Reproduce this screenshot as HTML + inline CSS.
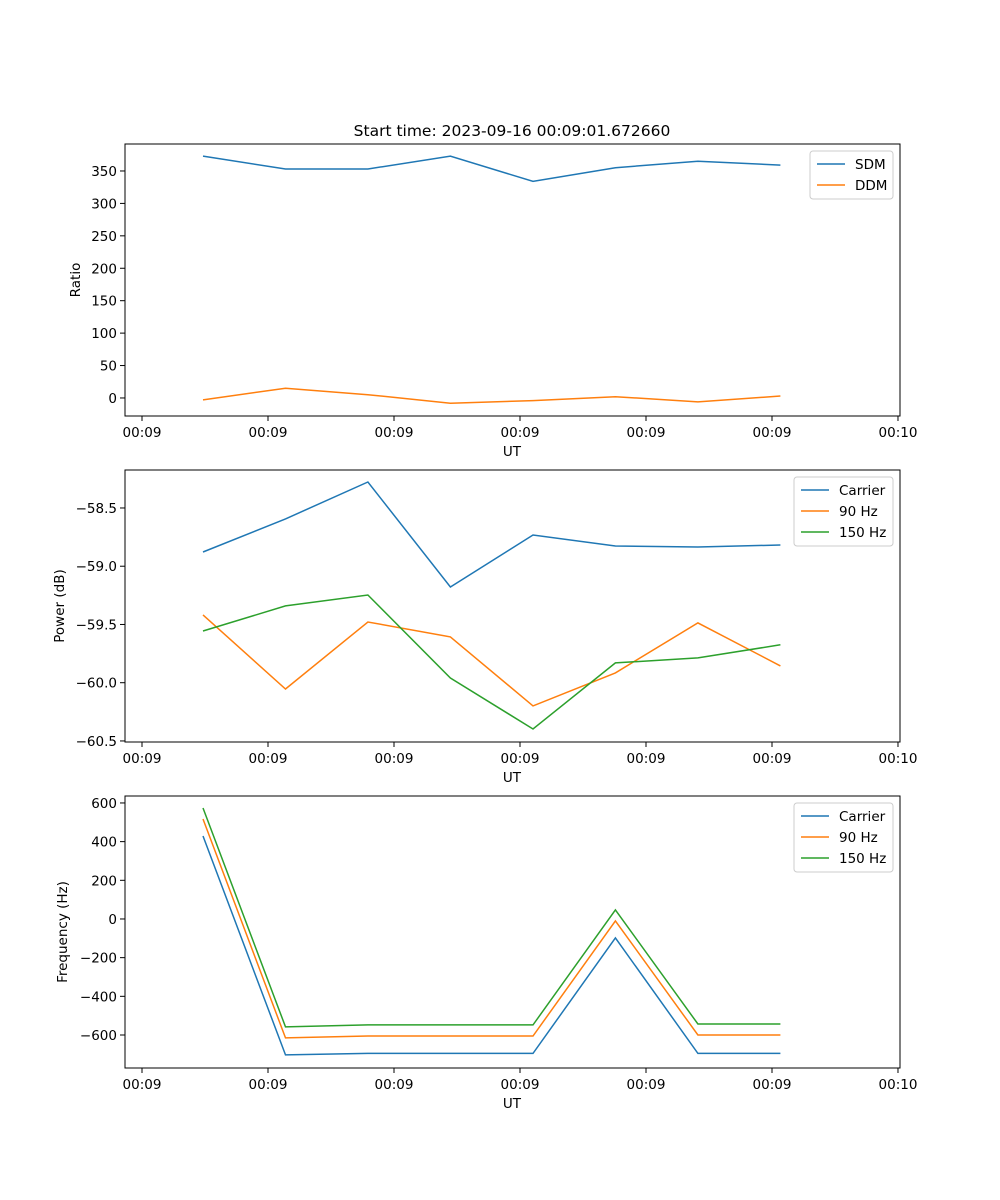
<!DOCTYPE html>
<html><head><meta charset="utf-8"><style>
body{margin:0;background:#fff}
svg{display:block;font-family:"DejaVu Sans","Liberation Sans",sans-serif}
</style></head><body>
<svg id="fig" width="1000" height="1200" xmlns="http://www.w3.org/2000/svg">
<rect width="1000" height="1200" fill="#fff"/>
<text x="512" y="136" font-size="15.5" text-anchor="middle" fill="#000">Start time: 2023-09-16 00:09:01.672660</text>
</svg>
<script>
const times=[4.84,11.39,17.93,24.48,31.03,37.57,44.12,50.67];
const xTicks=[0,10,20,30,40,50,60];
const xTickLabels=["00:09","00:09","00:09","00:09","00:09","00:09","00:10"];
const sdm=[373,353,353,373,334,355,365,359];
const ddm=[-3,15,5,-8,-4,2,-6,3];
const ratioTicks=[0,50,100,150,200,250,300,350];
const pwrCarrier=[-58.878,-58.594,-58.277,-59.178,-58.732,-58.826,-58.835,-58.818];
const pwr90=[-59.418,-60.054,-59.479,-59.607,-60.199,-59.916,-59.487,-59.856];
const pwr150=[-59.556,-59.341,-59.247,-59.96,-60.397,-59.83,-59.787,-59.675];
const pwrTicks=[-58.5,-59.0,-59.5,-60.0,-60.5];
const frqCarrier=[429,-703,-695,-695,-695,-98,-695,-695];
const frq90=[517,-615,-605,-605,-605,-10,-600,-600];
const frq150=[574,-558,-548,-548,-548,47,-543,-543];
const frqTicks=[600,400,200,0,-200,-400,-600];

const C1="#1f77b4",C2="#ff7f0e",C3="#2ca02c";
const svg=document.getElementById('fig');
const NS="http://www.w3.org/2000/svg";
function mk(tag,attrs,parent){const e=document.createElementNS(NS,tag);for(const k in attrs)e.setAttribute(k,attrs[k]);(parent||svg).appendChild(e);return e;}
const L=125,R=900,xmin=-1.35,xmax=60.16;
function xs(t){return L+(t-xmin)/(xmax-xmin)*(R-L);}
function fmt(v,d){return (v<0?"\u2212":"")+Math.abs(v).toFixed(d);}

function panel(name,top,bottom,ymin,ymax,yTicks,yDec,ylabel,series,legW,legX){
  const g=mk('g',{});
  
  
  const ys=v=>bottom-(v-ymin)/(ymax-ymin)*(bottom-top);
  series.forEach(s=>{
    const p=mk('polyline',{points:s.data.map((v,i)=>xs(times[i]).toFixed(1)+","+ys(v).toFixed(1)).join(" "),fill:"none",stroke:s.c,'stroke-width':1.5},g);
    
    
  });
  const fr=mk('rect',{x:L,y:top,width:R-L,height:bottom-top,fill:"none",stroke:"#000",'stroke-width':1},g);
  
  
  xTicks.forEach((t,i)=>{
    const x=xs(t);
    mk('line',{x1:x,x2:x,y1:bottom,y2:bottom+5,stroke:"#000"},g);
    const tx=mk('text',{x:x,y:bottom+21,'font-size':13.5,'text-anchor':'middle'},g);
    tx.textContent=xTickLabels[i];
    
    
  });
  yTicks.forEach(v=>{
    const y=ys(v);
    mk('line',{x1:L-5,x2:L,y1:y,y2:y,stroke:"#000"},g);
    const tx=mk('text',{x:L-8,y:y+5,'font-size':13.5,'text-anchor':'end'},g);
    tx.textContent=fmt(v,yDec);
    
    
  });
  const xl=mk('text',{x:512,y:bottom+40,'font-size':13.5,'text-anchor':'middle'},g);
  xl.textContent="UT";
  
  
  const cy=(top+bottom)/2;
  const yl=mk('text',{x:0,y:0,'font-size':13.5,'text-anchor':'middle',transform:`translate(${ylabel.x},${cy}) rotate(-90)`},g);
  yl.textContent=ylabel.t;
  
  
  const lx=legX,ly=top+7,lh=series.length*21+6;
  const lg=mk('g',{},g);
  
  
  mk('rect',{x:lx,y:ly,width:legW,height:lh,rx:3,fill:"#fff",stroke:"#ccc",'stroke-width':1},lg);
  series.forEach((s,i)=>{
    const yy=ly+13+i*21;
    mk('line',{x1:lx+7,x2:lx+35,y1:yy,y2:yy,stroke:s.c,'stroke-width':1.5},lg);
    const t=mk('text',{x:lx+45,y:yy+5,'font-size':13.5},lg);
    t.textContent=s.n;
    
    
  });
}
panel('ratio-panel',144,416,-27.8,391.6,ratioTicks,0,{t:"Ratio",x:80},
  [{n:"SDM",c:C1,data:sdm},{n:"DDM",c:C2,data:ddm}],83,810);
panel('power-panel',470,742,-60.509,-58.174,pwrTicks,1,{t:"Power (dB)",x:64},
  [{n:"Carrier",c:C1,data:pwrCarrier},{n:"90 Hz",c:C2,data:pwr90},{n:"150 Hz",c:C3,data:pwr150}],99,794);
panel('frequency-panel',796,1068,-770.7,636,frqTicks,0,{t:"Frequency (Hz)",x:67},
  [{n:"Carrier",c:C1,data:frqCarrier},{n:"90 Hz",c:C2,data:frq90},{n:"150 Hz",c:C3,data:frq150}],99,794);
</script>
</body></html>
